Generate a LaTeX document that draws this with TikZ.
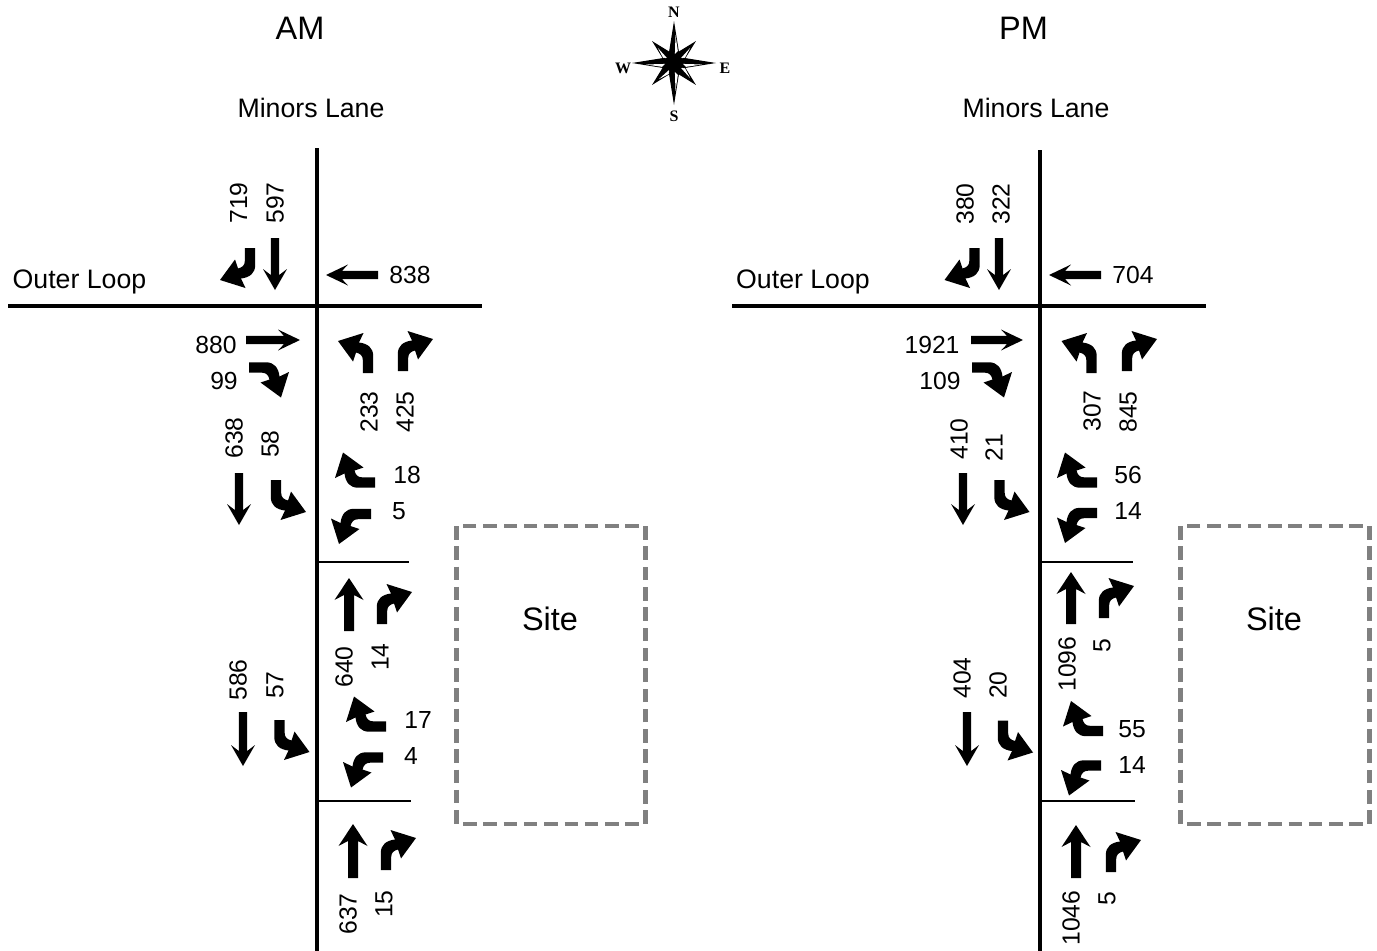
\documentclass[tikz,border=0pt]{standalone}
\usepackage{fontspec}
\setmainfont{Liberation Sans}
\newfontfamily\compassfont{Liberation Serif}
\tikzset{
  road/.style={draw=black,line width=3.4pt},
  sidestreet/.style={draw=black,line width=2.4pt},
  sitebox/.style={draw=black!50,line width=4.4pt,dash pattern=on 13.5pt off 6.8pt},
  val/.style={font=\fontsize{24.7}{26}\selectfont,inner sep=0pt},
  valv/.style={val,rotate=90},
  street/.style={font=\fontsize{26.7}{28}\selectfont,inner sep=0pt},
  heading/.style={font=\fontsize{32.5}{34}\selectfont,inner sep=0pt},
  compassletter/.style={font=\compassfont\bfseries\fontsize{16}{17}\selectfont,inner sep=0pt},
}
% turn arrow: stem foot at (#1,#2), then rotation, then mirror factor
\newcommand{\turnarrow}[4]{%
  \begin{scope}[shift={(#1,#2)},rotate=#3,xscale=#4,x=1pt,y=1pt]
    \fill[black] (-5.2,0) -- (-5.2,17) .. controls (-5.2,25) and (0,29.5) .. (9,30.5) -- (4.5,40) -- (30,32) -- (15,11.5) -- (12,20.5) .. controls (8,19.5) and (5.2,17.5) .. (5.2,13) -- (5.2,0) -- cycle;
  \end{scope}}
\newcommand{\thinarrow}[4]{% tail x,y, rotation, length (vertical)
  \begin{scope}[shift={(#1,#2)},rotate=#3,x=1pt,y=1pt]
    \fill[black] (-4.2,0) -- (-4.2,#4-15) -- (-12,#4-21) -- (0,#4) -- (12,#4-21) -- (4.2,#4-15) -- (4.2,0) -- cycle;
  \end{scope}}
\newcommand{\flatarrow}[4]{% tail x,y, rotation, length (horizontal)
  \begin{scope}[shift={(#1,#2)},rotate=#3,x=1pt,y=1pt]
    \fill[black] (-4.1,0) -- (-4.1,#4-16) -- (-10.5,#4-22) -- (0,#4) -- (10.5,#4-22) -- (4.1,#4-16) -- (4.1,0) -- cycle;
  \end{scope}}
\newcommand{\thickarrow}[3]{% tail x,y, length
  \begin{scope}[shift={(#1,#2)},x=1pt,y=1pt]
    \fill[black] (-5,0) -- (-5,#3-17) -- (-14.5,#3-22) -- (0,#3) -- (14.5,#3-22) -- (5,#3-17) -- (5,0) -- cycle;
  \end{scope}}
\begin{document}
\begin{tikzpicture}[x=1pt,y=-1pt]
\useasboundingbox (0,0) rectangle (1377,951);
% ---- compass
\coordinate (cc) at (674,63);
\begin{scope}[shift={(cc)},x=1pt,y=1pt]
  \foreach \a/\s in {45/-1,135/1,225/1,315/1}{
    \fill[black] (\a:31) -- (\a+40:9) -- (0,0) -- (\a-40:9) -- cycle;
    \fill[white] (\a+\s*2:22) -- (\a+\s*24:11) -- (\a+\s*9:9) -- cycle;
  }
  \foreach \a/\s in {90/-1,0/-1,270/1,180/1}{
    \fill[black] (\a:42) -- (\a+28:11) -- (0,0) -- (\a-28:11) -- cycle;
    \fill[white] (\a+\s*3:28) -- (\a+\s*18:12.5) -- (\a+\s*6:9) -- cycle;
  }
\end{scope}
\node[compassletter] (cn) at (674,12) {N};
\node[compassletter] (cw) at (623,68) {W};
\node[compassletter] (ce) at (725,68) {E};
\node[compassletter] (cs) at (674,116) {S};
% ---- AM roads
\coordinate (amN) at (317,148); \coordinate (amS) at (317,951);
\coordinate (amW) at (8,306);   \coordinate (amE) at (482,306);
\coordinate (amA) at (317,562); \coordinate (amB) at (409,562);
\coordinate (amC) at (317,801); \coordinate (amD) at (411,801);
\draw[road] (amN) -- (amS);
\draw[road] (amW) -- (amE);
\draw[sidestreet] (amA) -- (amB);
\draw[sidestreet] (amC) -- (amD);
\draw[sitebox] (456.5,526) rectangle (645.5,824);
\node[heading] (amT) at (300,28) {AM};
\node[street] (amM) at (311,108) {Minors Lane};
\node[street] (amO) at (79.5,282) {Outer Loop};
\node[heading] (amSite) at (550,619) {Site};
% ---- PM roads
\coordinate (pmN) at (1040,150); \coordinate (pmS) at (1040,951);
\coordinate (pmW) at (732,306);  \coordinate (pmE) at (1206,306);
\coordinate (pmA) at (1040,562); \coordinate (pmB) at (1133,562);
\coordinate (pmC) at (1040,801); \coordinate (pmD) at (1135,801);
\draw[road] (pmN) -- (pmS);
\draw[road] (pmW) -- (pmE);
\draw[sidestreet] (pmA) -- (pmB);
\draw[sidestreet] (pmC) -- (pmD);
\draw[sitebox] (1180.5,526) rectangle (1369.5,824);
\node[heading] (pmT) at (1023.5,28) {PM};
\node[street] (pmM) at (1036,108) {Minors Lane};
\node[street] (pmO) at (803,282) {Outer Loop};
\node[heading] (pmSite) at (1274,619) {Site};
% ---- AM arrows
\turnarrow{250}{248}{180}{1}
\thinarrow{275}{238}{180}{52}
\flatarrow{378}{275}{90}{52}
\flatarrow{246}{340}{-90}{54}
\turnarrow{249}{367.5}{-90}{1}
\turnarrow{368}{373}{0}{-1}
\turnarrow{403}{371}{0}{1}
\thinarrow{239}{473}{180}{52}
\turnarrow{276}{480}{180}{-1}
\turnarrow{375}{482.5}{90}{1}
\turnarrow{371}{514}{90}{-1}
\thickarrow{349}{631}{53}
\turnarrow{382}{624}{0}{1}
\thinarrow{243}{712}{180}{54}
\turnarrow{279.5}{720}{180}{-1}
\turnarrow{386}{726.5}{90}{1}
\turnarrow{383}{757.5}{90}{-1}
\thickarrow{353}{878}{54}
\turnarrow{386}{870}{0}{1}
% ---- PM arrows
\turnarrow{974.5}{248}{180}{1}
\thinarrow{999}{238}{180}{52}
\flatarrow{1101}{275}{90}{52}
\flatarrow{971}{340}{-90}{52}
\turnarrow{972}{367.5}{-90}{1}
\turnarrow{1091.5}{373}{0}{-1}
\turnarrow{1127}{371}{0}{1}
\thinarrow{963}{473}{180}{52}
\turnarrow{999.5}{480}{180}{-1}
\turnarrow{1097}{482.5}{90}{1}
\turnarrow{1097}{513}{90}{-1}
\thickarrow{1071}{624}{52}
\turnarrow{1104}{618}{0}{1}
\thinarrow{967}{712}{180}{54}
\turnarrow{1003}{720.5}{180}{-1}
\turnarrow{1103}{731}{90}{1}
\turnarrow{1101}{765.5}{90}{-1}
\thickarrow{1076}{878}{53}
\turnarrow{1111}{872}{0}{1}
% ---- AM values
\node[valv] (a1) at (238.5,203) {719};
\node[valv] (a2) at (275,203) {597};
\node[val]  (a3) at (410,275) {838};
\node[val]  (a4) at (216,344.5) {880};
\node[val]  (a5) at (224,380.5) {99};
\node[valv] (a6) at (369,412) {233};
\node[valv] (a7) at (405,412) {425};
\node[valv] (a8) at (234,438) {638};
\node[valv] (a9) at (270,444) {58};
\node[val]  (a10) at (407,475) {18};
\node[val]  (a11) at (399,511) {5};
\node[valv] (a12) at (344,667) {640};
\node[valv] (a13) at (380,657) {14};
\node[valv] (a14) at (238,680) {586};
\node[valv] (a15) at (275,685) {57};
\node[val]  (a16) at (418,720) {17};
\node[val]  (a17) at (411,756) {4};
\node[valv] (a18) at (348,914) {637};
\node[valv] (a19) at (384,904) {15};
% ---- PM values
\node[valv] (p1) at (965,204) {380};
\node[valv] (p2) at (1001,204) {322};
\node[val]  (p3) at (1133,275) {704};
\node[val]  (p4) at (932,344.5) {1921};
\node[val]  (p5) at (940,380.5) {109};
\node[valv] (p6) at (1092,411) {307};
\node[valv] (p7) at (1128,412) {845};
\node[valv] (p8) at (959,439) {410};
\node[valv] (p9) at (994,447.5) {21};
\node[val]  (p10) at (1128,475) {56};
\node[val]  (p11) at (1128,511) {14};
\node[valv] (p12) at (1067,664) {1096};
\node[valv] (p13) at (1102,646) {5};
\node[valv] (p14) at (962,678) {404};
\node[valv] (p15) at (998,685) {20};
\node[val]  (p16) at (1132,729) {55};
\node[val]  (p17) at (1132,765) {14};
\node[valv] (p18) at (1071,918) {1046};
\node[valv] (p19) at (1107,899) {5};
\end{tikzpicture}
\end{document}
